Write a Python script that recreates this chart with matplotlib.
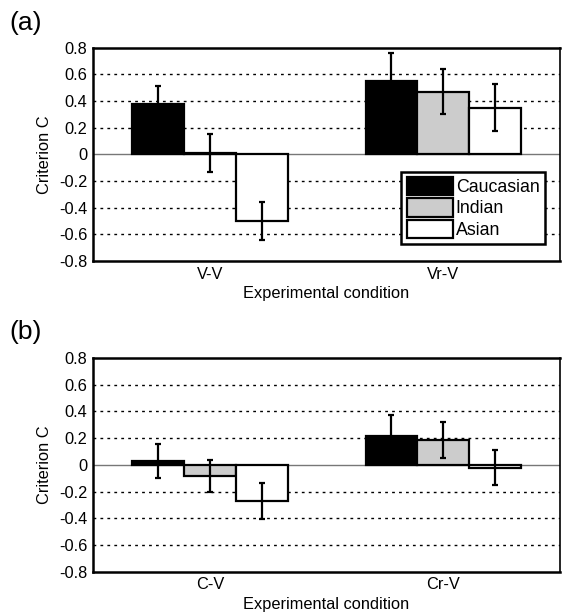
import numpy as np
import matplotlib
matplotlib.use("Agg")
import matplotlib.pyplot as plt

plt.rcParams['font.family'] = ['Liberation Sans', 'DejaVu Sans']

groups = ["Caucasian", "Indian", "Asian"]
colors = ["black", "#cccccc", "white"]

cond_a = ["V-V", "Vr-V"]
vals_a = [[0.38, 0.55], [0.01, 0.47], [-0.50, 0.35]]
errs_a = [[0.13, 0.21], [0.14, 0.17], [0.14, 0.175]]

cond_b = ["C-V", "Cr-V"]
vals_b = [[0.03, 0.22], [-0.08, 0.19], [-0.27, -0.02]]
errs_b = [[0.125, 0.15], [0.12, 0.135], [0.135, 0.13]]

yticks = np.arange(-0.8, 0.81, 0.2)


def panel(ax, conds, vals, errs, legend=False):
    x = np.arange(1, len(conds) + 1)
    w = 0.222
    for i, g in enumerate(groups):
        pos = x + (i - 1) * w
        ax.bar(pos, vals[i], w, color=colors[i], edgecolor="black",
               linewidth=1.6, label=g, zorder=2)
        ax.errorbar(pos, vals[i], yerr=errs[i], fmt="none", ecolor="black",
                    elinewidth=1.6, capsize=2, capthick=1.6, zorder=3)
    for t in yticks:
        if abs(t) < 1e-9 or abs(abs(t) - 0.8) < 1e-9:
            continue
        ax.axhline(t, color="black", linestyle=(0, (2, 3)), linewidth=1,
                   zorder=1)
    ax.axhline(0, color="#777777", linewidth=1, zorder=1)
    ax.set_xlim(0.5, 2.5)
    ax.set_ylim(-0.8, 0.8)
    ax.set_xticks(x)
    ax.set_xticklabels(conds)
    ax.set_yticks(yticks)
    ax.set_yticklabels([f"{t:.1f}".replace("-0.0", "0").replace("0.0", "0")
                        for t in yticks])
    ax.tick_params(length=0, labelsize=11.8, pad=4)
    for s in ax.spines.values():
        s.set_linewidth(1.8)
    ax.spines["right"].set_linewidth(1.2)
    ax.set_ylabel("Criterion C", fontsize=11.8, labelpad=5)
    ax.set_xlabel("Experimental condition", fontsize=11.8, labelpad=3)
    if legend:
        leg = ax.legend(loc="lower right", fontsize=12.8, frameon=True,
                        fancybox=False, edgecolor="black", framealpha=1,
                        handlelength=2.6, handleheight=1.2,
                        handletextpad=0.15, labelspacing=0.12,
                        borderpad=0.3, borderaxespad=0.6,
                        bbox_to_anchor=(0.99, 0.03))
        leg.get_frame().set_linewidth(1.8)


fig = plt.figure(figsize=(5.64, 6.13), dpi=100)
ax1 = fig.add_axes([0.165, 0.574, 0.828, 0.348])
ax2 = fig.add_axes([0.165, 0.067, 0.828, 0.349])
panel(ax1, cond_a, vals_a, errs_a, legend=True)
panel(ax2, cond_b, vals_b, errs_b)
fig.text(0.016, 0.963, "(a)", fontsize=19, va="center")
fig.text(0.016, 0.458, "(b)", fontsize=19, va="center")
fig.savefig("out.png", dpi=100)
